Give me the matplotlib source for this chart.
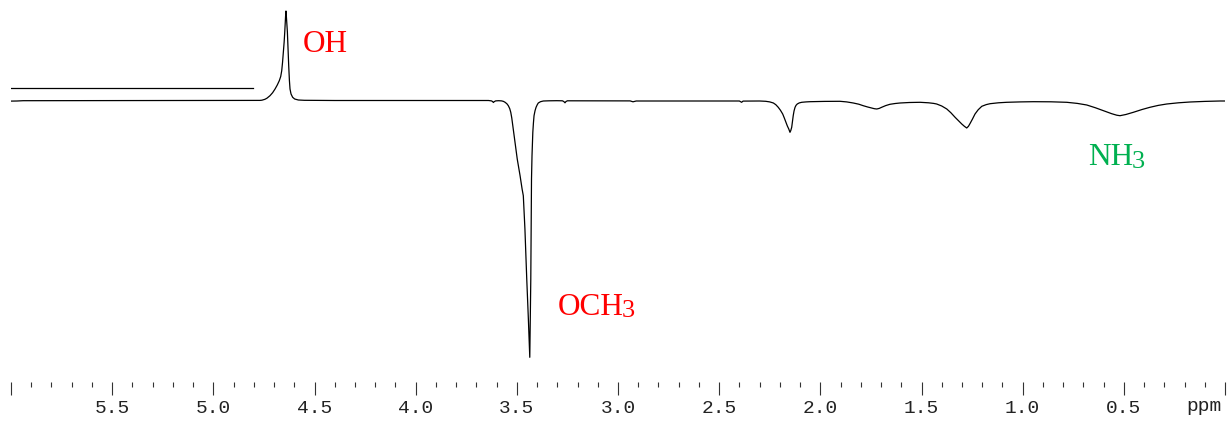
import matplotlib
matplotlib.use("Agg")
import matplotlib.pyplot as plt
from matplotlib.ticker import FixedLocator, MultipleLocator, FixedFormatter

# ---- data ----
spectrum_ppm = [6.00, 5.97, 5.94, 4.80, 4.77, 4.76, 4.745, 4.735, 4.720, 4.707, 4.695, 4.684,
                4.674, 4.667, 4.662, 4.658, 4.654, 4.650, 4.647, 4.643, 4.641, 4.639, 4.634,
                4.631, 4.6275, 4.624, 4.621, 4.616, 4.608, 4.598, 4.580, 4.55, 4.40, 3.70,
                3.64, 3.625, 3.619, 3.616, 3.612, 3.605, 3.59, 3.575, 3.566,
                3.558, 3.549, 3.542, 3.535, 3.530, 3.525, 3.520, 3.509, 3.498, 3.484, 3.474,
                3.468, 3.460, 3.451, 3.443, 3.436, 3.434, 3.431, 3.429, 3.4275, 3.425, 3.423,
                3.421, 3.418, 3.415, 3.410, 3.405, 3.399, 3.394, 3.383, 3.369, 3.34, 3.303,
                3.275, 3.268, 3.262, 3.257, 3.250, 2.94, 2.926, 2.91, 2.40, 2.389, 2.382,
                2.30, 2.27, 2.25, 2.232, 2.220, 2.208, 2.197, 2.186, 2.178, 2.170, 2.163,
                2.156, 2.150, 2.146, 2.1415, 2.138, 2.134, 2.130, 2.125, 2.120, 2.114, 2.104,
                2.092, 2.07, 2.051, 1.98, 1.903, 1.87, 1.837, 1.81, 1.788, 1.766, 1.746,
                1.733, 1.721, 1.709, 1.697, 1.677, 1.656, 1.63, 1.606, 1.56, 1.507, 1.465,
                1.44, 1.425, 1.40, 1.375, 1.355, 1.334, 1.316, 1.301, 1.288, 1.2765, 1.268,
                1.260, 1.248, 1.2355, 1.220, 1.202, 1.18, 1.161, 1.12, 1.079, 1.01, 0.947,
                0.86, 0.782, 0.73, 0.683, 0.64, 0.601, 0.56, 0.535, 0.519, 0.49, 0.453,
                0.41, 0.371, 0.33, 0.288, 0.23, 0.173, 0.10, 0.025, 0.0]
spectrum_int = [-0.6, -0.5, -0.2, 0.0, 0.1, 0.3, 1.2, 2.3, 4.8, 7.8, 11.5, 15.5,
                19.8, 24.0, 29.8, 38.0, 48.5, 58.5, 68.5, 84.0, 89.5, 84.0, 68.5,
                52.0, 34.8, 20.0, 11.5, 6.5, 3.2, 1.5, 0.5, 0.2, 0.0, 0.0,
                0.0, -0.4, -1.2, -2.0, -1.2, -0.4, -0.2, -0.4, -0.9,
                -1.8, -3.3, -5.2, -8.2, -11.8, -17.5, -25.2, -41.8, -58.5, -75.2, -88.5,
                -95.2, -128.5, -178.5, -218.5, -256.8, -228.5, -178.5, -111.5, -78.5, -55.2, -43.0,
                -31.8, -22.5, -15.2, -10.2, -6.8, -4.2, -2.5, -1.2, -0.5, -0.3, -0.2,
                -0.3, -1.0, -2.3, -1.0, -0.3, -0.4, -1.3, -0.5, -0.5, -1.8, -0.6,
                -0.5, -0.8, -1.4, -2.5, -4.2, -6.8, -9.8, -13.5, -17.5, -21.8, -25.5,
                -28.5, -31.8, -30.0, -26.8, -21.5, -15.2, -10.5, -6.8, -4.8, -3.5, -2.4,
                -1.8, -1.4, -1.2, -0.9, -0.8, -1.4, -2.5, -3.7, -5.2, -6.5, -7.5,
                -8.2, -8.5, -7.9, -6.8, -5.1, -3.8, -3.0, -2.5, -2.0, -1.8, -2.3,
                -2.9, -3.5, -5.5, -8.5, -12.2, -16.8, -20.5, -23.5, -25.8, -27.5, -25.8,
                -23.0, -18.5, -13.5, -9.3, -5.8, -4.1, -3.2, -2.3, -1.8, -1.4, -1.2,
                -1.3, -1.8, -2.9, -4.5, -7.3, -10.2, -13.2, -14.7, -15.2, -14.0, -11.8,
                -9.0, -6.8, -4.9, -3.5, -2.3, -1.5, -0.9, -0.5, -0.5]

ref_line_ppm = [6.005, 4.805]
ref_line_int = [12.2, 12.2]

major_ticks = [6.0, 5.5, 5.0, 4.5, 4.0, 3.5, 3.0, 2.5, 2.0, 1.5, 1.0, 0.5, 0.0]
major_labels = ["", "5.5", "5.0", "4.5", "4.0", "3.5", "3.0", "2.5", "2.0", "1.5", "1.0", "0.5", ""]

labels_main = ["OH", "OCH", "NH"]
labels_main_pos = [(4.557, 49.5), (3.300, -213.5), (0.6755, -63.5)]
labels_sub_pos = [None, (2.982, -215.8), (0.461, -66.3)]
labels_color = ["#FF0000", "#FF0000", "#00B050"]

# ---- figure ----
W, H = 1229, 427
fig = plt.figure(figsize=(W / 100, H / 100), dpi=100)
ax = fig.add_axes([11 / W, 44 / H, 1214 / W, 383 / H])
ax.set_xlim(6.0, 0.0)
ax.set_ylim(101.5 - 383, 101.5)

ax.plot(spectrum_ppm, spectrum_int, color="black", lw=0.9, solid_joinstyle="round")
ax.plot(ref_line_ppm, ref_line_int, color="black", lw=0.9)

serif = ["Liberation Serif", "DejaVu Serif"]
for txt, (x, y), sub, c in zip(labels_main, labels_main_pos, labels_sub_pos, labels_color):
    ax.text(x, y, txt, color=c, fontsize=22.5, family=serif, ha="left", va="baseline")
    if sub is not None:
        ax.text(sub[0], sub[1], "3", color=c, fontsize=19, family=serif, ha="left", va="baseline")

for s in ax.spines.values():
    s.set_visible(False)
ax.yaxis.set_visible(False)
ax.xaxis.set_major_locator(FixedLocator(major_ticks))
ax.xaxis.set_major_formatter(FixedFormatter(major_labels))
ax.xaxis.set_minor_locator(MultipleLocator(0.1))
ax.tick_params(axis="x", which="major", direction="out", length=9.4, width=0.8,
               color="#333333", pad=2.5, labelsize=14)
ax.tick_params(axis="x", which="minor", direction="out", length=3.6, width=0.8,
               color="#333333")
for lbl in ax.get_xticklabels():
    lbl.set_family(["Liberation Mono", "DejaVu Sans Mono"])
    lbl.set_color("#222222")

fig.text(1204 / W, (H - 411) / H, "ppm", family=["Liberation Mono", "DejaVu Sans Mono"],
         fontsize=14, color="#222222", ha="center", va="baseline")

fig.savefig("out.png", dpi=100)
